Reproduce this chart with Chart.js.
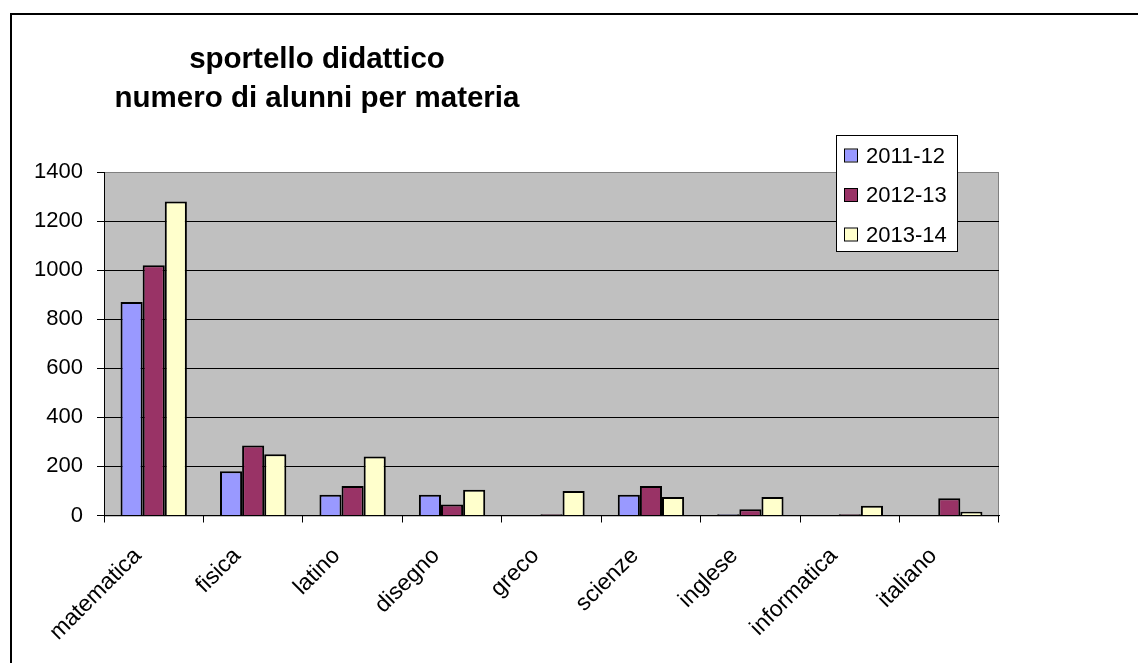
<!DOCTYPE html>
<html>
<head>
<meta charset="utf-8">
<script src="https://cdn.jsdelivr.net/npm/chart.js@4"></script>
<style>
  html, body { margin: 0; padding: 0; background: #fff; }
  #wrap { width: 1138px; height: 663px; position: relative; }
</style>
</head>
<body>
<div id="wrap"><canvas id="c" width="1138" height="663"></canvas></div>
<script>
// chart data
const MATERIE = ['matematica', 'fisica', 'latino', 'disegno', 'greco', 'scienze', 'inglese', 'informatica', 'italiano'];
const ANNI = ['2011-12', '2012-13', '2013-14'];
const ALUNNI_2011 = [870, 180, 85, 85, 0, 85, 5, 0, 0];
const ALUNNI_2012 = [1020, 285, 120, 45, 5, 120, 25, 5, 70];
const ALUNNI_2013 = [1280, 250, 240, 105, 100, 75, 75, 40, 15];
const Y_MAX = 1400;
const Y_STEP = 200;
const TITOLO = ['sportello didattico', 'numero di alunni per materia'];

const COLORS = ['#9999FF', '#993366', '#FFFFCC'];
const FONT = 'Arial, "Liberation Sans", sans-serif';

// plot background, outer frame, title and legend box (Excel style)
const excelLook = {
  id: 'excelLook',
  beforeDraw(chart) {
    const { ctx, chartArea: a } = chart;
    ctx.save();
    ctx.fillStyle = '#C0C0C0';
    ctx.fillRect(a.left, a.top, a.right - a.left, a.bottom - a.top);
    ctx.strokeStyle = '#808080';
    ctx.lineWidth = 1;
    ctx.strokeRect(a.left + 0.5, a.top + 0.5, a.right - a.left - 1, a.bottom - a.top);
    ctx.restore();
  },
  afterDraw(chart) {
    const { ctx } = chart;
    ctx.save();
    // outer frame, runs off the right and bottom edge
    ctx.strokeStyle = '#000';
    ctx.lineWidth = 2;
    ctx.strokeRect(11, 14, 1200, 700);

    // title
    ctx.fillStyle = '#000';
    ctx.textAlign = 'center';
    ctx.textBaseline = 'alphabetic';
    ctx.font = 'bold 29.5px ' + FONT;
    ctx.fillText(TITOLO[0], 317, 68);
    ctx.fillText(TITOLO[1], 317, 107);

    // legend
    const lx = 836, ly = 135, lw = 121, lh = 116;
    ctx.fillStyle = '#fff';
    ctx.fillRect(lx, ly, lw, lh);
    ctx.strokeStyle = '#000';
    ctx.lineWidth = 1;
    ctx.strokeRect(lx + 0.5, ly + 0.5, lw, lh);
    ctx.font = '22px ' + FONT;
    ctx.textAlign = 'left';
    ctx.textBaseline = 'middle';
    chart.data.datasets.forEach((ds, i) => {
      const cy = 155.5 + i * 39.5;
      ctx.fillStyle = ds.backgroundColor;
      ctx.fillRect(845, cy - 6, 12, 12);
      ctx.strokeRect(844.5, cy - 6.5, 13, 13);
      ctx.fillStyle = '#000';
      ctx.fillText(ds.label, 866, cy + 1);
    });
    ctx.restore();
  }
};

const datasets = [ALUNNI_2011, ALUNNI_2012, ALUNNI_2013].map((vals, i) => ({
  label: ANNI[i],
  data: vals,
  backgroundColor: COLORS[i],
  borderColor: '#000',
  borderWidth: 2,
  barPercentage: 1,
  categoryPercentage: 0.667
}));

new Chart(document.getElementById('c'), {
  type: 'bar',
  data: { labels: MATERIE, datasets },
  options: {
    responsive: false,
    animation: false,
    devicePixelRatio: 1,
    layout: { padding: { left: 10, top: 172, right: 139, bottom: 0 } },
    plugins: {
      legend: { display: false },
      title: { display: false },
      tooltip: { enabled: false }
    },
    scales: {
      x: {
        afterFit(scale) { scale.height = 147.5; },
        grid: {
          offset: true,
          drawOnChartArea: false,
          drawTicks: true,
          tickLength: 7,
          color: '#000',
          tickColor: '#000'
        },
        border: { color: '#000', width: 1 },
        ticks: {
          color: '#000',
          font: { family: FONT, size: 23 },
          minRotation: 45,
          maxRotation: 45,
          autoSkip: false,
          padding: 20,
          labelOffset: -16
        }
      },
      y: {
        min: 0,
        max: Y_MAX,
        afterFit(scale) { scale.width = 94; },
        grid: {
          color: (c) => (c.tick && c.tick.value === Y_MAX ? '#808080' : '#000'),
          tickColor: '#000',
          tickLength: 7,
          lineWidth: 1
        },
        border: { color: '#000', width: 1 },
        ticks: {
          stepSize: Y_STEP,
          color: '#000',
          font: { family: FONT, size: 22 },
          padding: 14,
          callback: (v) => String(v)
        }
      }
    }
  },
  plugins: [excelLook]
});
</script>
</body>
</html>
